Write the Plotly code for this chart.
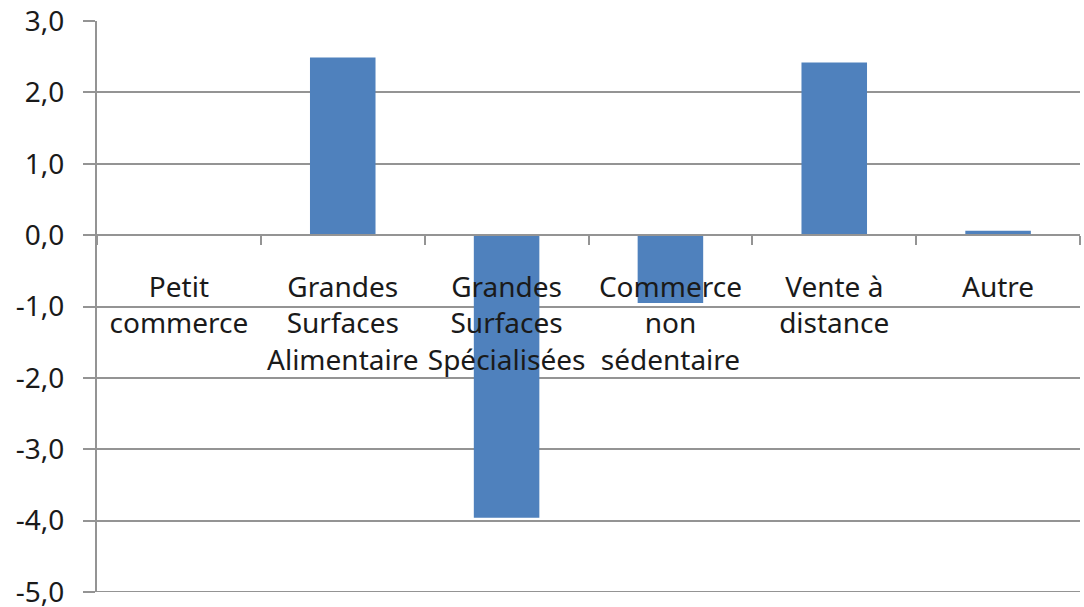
import plotly.graph_objects as go

categories = ["Petit<br>commerce", "Grandes<br>Surfaces<br>Alimentaire", "Grandes<br>Surfaces<br>Spécialisées",
              "Commerce<br>non<br>sédentaire", "Vente à<br>distance", "Autre"]
values = [0.0, 2.49, -3.96, -0.95, 2.42, 0.06]
y_ticks = [3, 2, 1, 0, -1, -2, -3, -4, -5]
y_tick_labels = ["3,0", "2,0", "1,0", "0,0", "-1,0", "-2,0", "-3,0", "-4,0", "-5,0"]
y_min, y_max = -5, 3

GRID = "#949494"
FONT = dict(family="Noto Sans", size=28, color="#1a1a1a")

fig = go.Figure()
fig.add_trace(go.Bar(x=categories, y=values, marker=dict(color="#4F81BD", line=dict(width=0)), width=0.4))

fig.update_layout(
    width=1084, height=607,
    margin=dict(l=97, r=4, t=21, b=15),
    plot_bgcolor="white", paper_bgcolor="white",
    showlegend=False,
    font=FONT,
)
# bottom gridline (Plotly culls the gridline at the range edge)
fig.add_shape(type="line", xref="paper", yref="y", x0=0, x1=1, y0=y_min, y1=y_min,
              line=dict(color=GRID, width=2), layer="below")
fig.update_yaxes(
    range=[y_min, y_max], tickvals=y_ticks, ticktext=y_tick_labels,
    showgrid=True, gridcolor=GRID, gridwidth=2,
    showline=True, linecolor=GRID, linewidth=2,
    ticks="outside", ticklen=12, tickcolor=GRID, tickwidth=2,
    ticklabelstandoff=13, zeroline=False, tickfont=FONT, automargin=False,
    ticklabeloverflow="allow",
)
fig.update_xaxes(
    anchor="free", position=0.625,
    showline=True, linecolor=GRID, linewidth=2,
    ticks="outside", ticklen=9, tickcolor=GRID, tickwidth=2, tickson="boundaries",
    showgrid=False, tickfont=FONT, ticklabelstandoff=27, tickangle=0, automargin=False,
)

fig.write_html(
    "out.html",
    config={"displayModeBar": False},
    post_script="document.body.style.margin='0';document.body.style.overflow='hidden';",
)
